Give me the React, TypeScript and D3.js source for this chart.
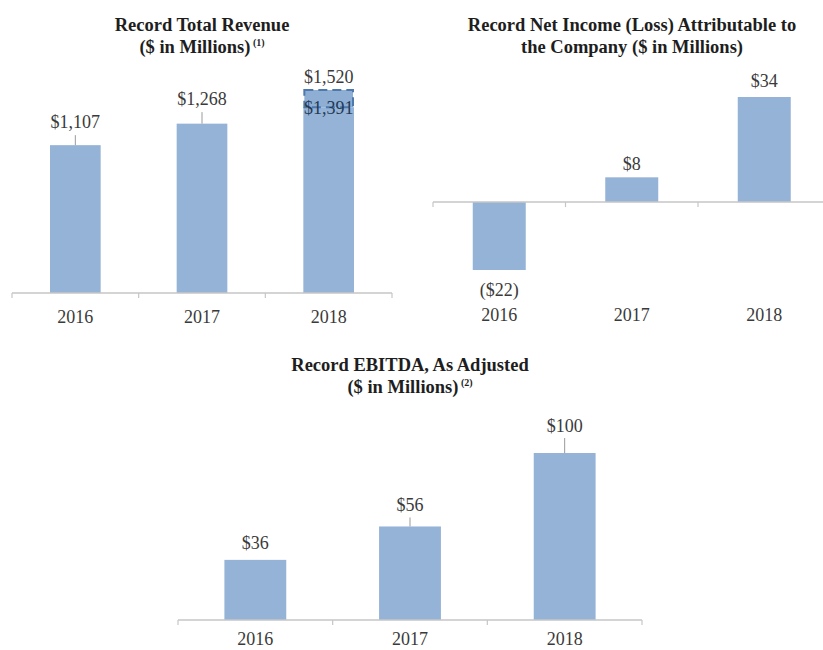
import React from "react";
import * as d3 from "d3";

const years = ["2016", "2017", "2018"];

const revenue = [1107, 1268, 1391];
const revenueProForma = 1520;
const revenueLabels = ["$1,107", "$1,268", "$1,391"];
const revenueProFormaLabel = "$1,520";

const netIncome = [-22, 8, 34];
const netIncomeLabels = ["($22)", "$8", "$34"];

const ebitda = [36, 56, 100];
const ebitdaLabels = ["$36", "$56", "$100"];

const BAR = "#95b3d7";
const AXIS = "#c6c6c6";
const TXT = "#3a3a3a";
const TITLE = "#1e1e1e";
const FONT = "'Liberation Serif', 'Times New Roman', serif";

type Title = { line1: string; line2: string; sup?: string };

function TitleBlock({ cx, y, t }: { cx: number; y: number; t: Title }) {
  return (
    <text x={cx} y={y} textAnchor="middle" fontFamily={FONT} fontWeight="bold" fontSize={18.5} fill={TITLE}>
      <tspan x={cx} y={y}>{t.line1}</tspan>
      <tspan x={cx} y={y + 22}>
        {t.line2}
        {t.sup ? (
          <tspan fontSize={10} dy={-7}>{" " + t.sup}</tspan>
        ) : null}
      </tspan>
    </text>
  );
}

function App() {
  // Chart 1: total revenue
  const x1 = d3.scaleBand<string>().domain(years).range([12, 392]).paddingInner(0.6).paddingOuter(0.3);
  const y1 = d3.scaleLinear().domain([0, revenueProForma]).range([293, 90]);
  // Chart 2: net income
  const x2 = d3.scaleBand<string>().domain(years).range([433, 830.5]).paddingInner(0.6).paddingOuter(0.3);
  const y2 = d3.scaleLinear().domain([-22, 34]).range([270, 97]);
  // Chart 3: EBITDA
  const x3 = d3.scaleBand<string>().domain(years).range([178, 642]).paddingInner(0.6).paddingOuter(0.3);
  const y3 = d3.scaleLinear().domain([0, 100]).range([620, 453]);

  const axis = (x: d3.ScaleBand<string>, y0: number, xEnd?: number) => {
    const [r0, r1] = x.range();
    const step = x.step();
    const ticks = d3.range(years.length + 1).map((i) => r0 + i * step);
    return (
      <g>
        <line x1={r0} x2={xEnd ?? r1} y1={y0} y2={y0} stroke={AXIS} strokeWidth={1.5} />
        {ticks.map((t, i) => (
          <line key={i} x1={t} x2={t} y1={y0} y2={y0 + 5} stroke={AXIS} strokeWidth={1.2} />
        ))}
      </g>
    );
  };

  const catLabels = (x: d3.ScaleBand<string>, yb: number) =>
    years.map((yr) => (
      <text key={yr} x={(x(yr) ?? 0) + x.bandwidth() / 2} y={yb} textAnchor="middle" fontFamily={FONT} fontSize={18} fill={TXT}>
        {yr}
      </text>
    ));

  const leader = (cx: number, ya: number, yb: number, key: string) => (
    <line key={key} x1={cx} x2={cx} y1={ya} y2={yb} stroke="#9a9a9a" strokeWidth={1} />
  );

  // Chart 1 label offsets (above bar tops)
  const lab1Off = [17, 18.5];
  const pfY = y1(revenueProForma);
  const solidTop = y1(revenue[2]);
  const c18 = (x1("2018") ?? 0) + x1.bandwidth() / 2;

  // Chart 3 label offsets
  const lab3Off = [11, 15, 21];

  return (
    <svg width={823} height={650} style={{ position: "absolute", left: 0, top: 0, background: "#fff" }}>
      {/* ---------- Chart 1 ---------- */}
      <TitleBlock cx={202} y={31} t={{ line1: "Record Total Revenue", line2: "($ in Millions)", sup: "(1)" }} />
      {years.map((yr, i) => (
        <rect key={yr} x={x1(yr)} y={y1(revenue[i])} width={x1.bandwidth()} height={y1(0) - y1(revenue[i])} fill={BAR} />
      ))}
      <rect
        x={(x1("2018") ?? 0) + 1}
        y={pfY}
        width={x1.bandwidth() - 2}
        height={solidTop - pfY}
        fill="#8eaed4"
        stroke="#4d79ad"
        strokeWidth={2}
        strokeDasharray="9,5"
      />
      {years.slice(0, 2).map((yr, i) => {
        const cx = (x1(yr) ?? 0) + x1.bandwidth() / 2;
        const top = y1(revenue[i]);
        return (
          <g key={yr}>
            {leader(cx, top - lab1Off[i] + 7, top, "l" + yr)}
            <text x={cx} y={top - lab1Off[i]} textAnchor="middle" fontFamily={FONT} fontSize={18} fill={TXT}>
              {revenueLabels[i]}
            </text>
          </g>
        );
      })}
      <text x={c18} y={pfY - 7} textAnchor="middle" fontFamily={FONT} fontSize={18} fill={TXT}>
        {revenueProFormaLabel}
      </text>
      <text x={c18} y={solidTop + 7} textAnchor="middle" fontFamily={FONT} fontSize={18} fill="#233a55">
        {revenueLabels[2]}
      </text>
      {axis(x1, y1(0))}
      {catLabels(x1, 323)}

      {/* ---------- Chart 2 ---------- */}
      <TitleBlock cx={632} y={31} t={{ line1: "Record Net Income (Loss) Attributable to", line2: "the Company ($ in Millions)" }} />
      {years.map((yr, i) => {
        const v = netIncome[i];
        const top = Math.min(y2(v), y2(0));
        const h = Math.abs(y2(v) - y2(0));
        return <rect key={yr} x={x2(yr)} y={top} width={x2.bandwidth()} height={h} fill={BAR} />;
      })}
      {years.map((yr, i) => {
        const v = netIncome[i];
        const cx = (x2(yr) ?? 0) + x2.bandwidth() / 2;
        const yy = v < 0 ? y2(v) + 26 : y2(v) - (i === 2 ? 10 : 7);
        return (
          <text key={yr} x={cx} y={yy} textAnchor="middle" fontFamily={FONT} fontSize={18} fill={TXT}>
            {netIncomeLabels[i]}
          </text>
        );
      })}
      {axis(x2, y2(0), 823)}
      {catLabels(x2, 321)}

      {/* ---------- Chart 3 ---------- */}
      <TitleBlock cx={410} y={371} t={{ line1: "Record EBITDA, As Adjusted", line2: "($ in Millions)", sup: "(2)" }} />
      {years.map((yr, i) => (
        <rect key={yr} x={x3(yr)} y={y3(ebitda[i])} width={x3.bandwidth()} height={y3(0) - y3(ebitda[i])} fill={BAR} />
      ))}
      {years.map((yr, i) => {
        const cx = (x3(yr) ?? 0) + x3.bandwidth() / 2;
        const top = y3(ebitda[i]);
        return (
          <g key={yr}>
            {i > 0 ? leader(cx, top - lab3Off[i] + 6, top, "l3" + yr) : null}
            <text x={cx} y={top - lab3Off[i]} textAnchor="middle" fontFamily={FONT} fontSize={18} fill={TXT}>
              {ebitdaLabels[i]}
            </text>
          </g>
        );
      })}
      {axis(x3, y3(0))}
      {catLabels(x3, 645)}
    </svg>
  );
}

export default App;
